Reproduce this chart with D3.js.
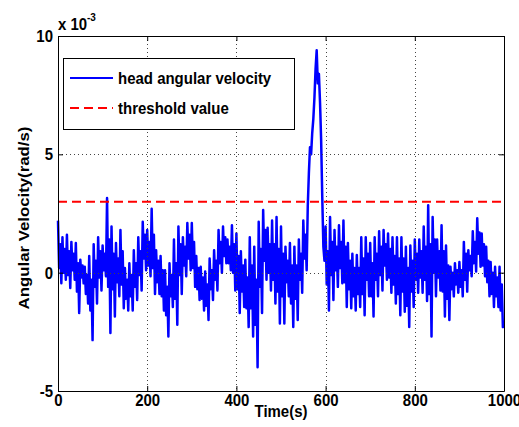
<!DOCTYPE html>
<html>
<head>
<meta charset="utf-8">
<script src="https://cdn.jsdelivr.net/npm/d3@7"></script>
<style>
  body { margin: 0; background: #fff; }
  svg text { font-family: "Liberation Sans", Arial, sans-serif; font-weight: bold; fill: #000; }
</style>
</head>
<body>
<svg id="chart" width="519" height="427"></svg>
<script>
// head angular velocity, in units of 1e-3 rad/s, one sample every 2.5 s
// (four samples per 10 s window: peak, inner low, inner high, trough)
const sampleStep = 2.5;
const velocity = [
  2.2, 0.2, 1.2, -0.45,   1.5, 0.0, 1.0, -0.3,    1.6, -0.1, 0.9, -0.65,  1.3, 0.1, 0.8, -0.3,    1.25, -0.8, 0.4, -1.7,
  0.55, -0.2, 0.3, -0.45, 0.25, -0.9, -0.1, -1.3, 0.7, -1.6, -0.3, -2.85, 1.2, -0.6, 0.5, -1.3,   1.5, -0.2, 0.9, -0.75,
  1.15, 0.1, 0.8, -0.15,  3.15, -0.6, 1.4, -2.55, 1.95, -0.7, 0.8, -1.85, 1.25, -0.4, 0.6, -1.0,  1.8, -0.5, 0.9, -1.5,
  0.2, -1.1, -0.3, -1.6,  0.4, -1.0, -0.1, -1.6,  0.95, -0.6, 0.4, -1.15, 1.5, -0.1, 0.9, -0.75,  2.15, 0.6, 1.6, 0.1,
  1.8, 0.3, 1.3, -0.15,   2.7, 0.2, 1.6, -0.9,    0.95, -0.4, 0.5, -0.9,  0.7, -1.0, 0.1, -1.6,   0.1, -1.8, -0.6, -2.7,
  0.4, -1.0, -0.1, -1.45, 1.4, -1.1, 0.4, -2.2,   1.95, -0.1, 1.2, -0.9,  1.5, 0.3, 1.1, -0.15,   2.1, 0.6, 1.6, 0.1,
  2.1, 0.2, 1.3, -0.6,    0.7, -0.7, 0.2, -1.15,  0.25, -1.1, -0.2, -1.6, 0.05, -1.4, -0.5, -2.0, 0.6, -0.7, 0.1, -1.15,
  0.95, -0.3, 0.5, -0.75, 1.8, 0.4, 1.3, 0.0,     1.95, 0.7, 1.5, 0.4,    1.4, 0.4, 1.1, 0.1,     2.0, 0.0, 1.2, -0.75,
  1.65, -0.7, 0.7, -1.7,  0.9, -0.8, 0.3, -1.45,  0.55, -1.5, -0.2, -2.3, 1.5, -1.5, 0.3, -2.7,   1.1, -2.2, -0.3, -4.0,
  2.15, -0.6, 1.0, -1.7,  2.65, 0.5, 1.8, -0.3,   1.9, 0.0, 1.2, -0.75,   2.2, -0.3, 1.2, -1.3,   2.35, -0.8, 1.0, -2.15,
  1.95, -1.0, 0.8, -2.15, 1.1, -0.4, 0.5, -1.0,   1.25, -1.3, 0.3, -2.3,  1.1, -1.1, 0.3, -2.0,   1.4, -0.3, 0.8, -0.85,
  2.2, 0.6, 1.6, 0.1,     2.8, 4.2, 5.3, 5.0,     5.9, 6.5, 7.4, 8.6,     9.4, 8.0, 8.4, 7.2,     5.6, 3.2, 1.1, 0.5,
  1.95, -0.5, 0.9, -1.6,  2.35, -0.1, 1.3, -1.15, 1.8, 0.1, 1.1, -0.6,    2.0, 0.2, 1.3, -0.45,   2.2, -0.4, 1.1, -1.45,
  1.25, -0.7, 0.5, -1.5,  0.8, -1.0, 0.2, -1.6,   0.75, -0.9, 0.2, -1.45, 1.5, -0.9, 0.6, -1.8,   1.5, -0.3, 0.8, -1.0,
  1.25, -1.0, 0.4, -1.85, 1.5, -0.3, 0.8, -1.0,   1.75, -0.1, 1.1, -0.75, 1.8, 0.3, 1.2, -0.3,    1.65, -0.2, 1.0, -0.85,
  1.5, -0.5, 0.7, -1.3,   1.5, -0.9, 0.6, -1.8,   1.5, -0.8, 0.6, -1.65,  1.1, -1.4, 0.2, -2.3,   1.15, -0.8, 0.5, -1.45,
  1.4, -0.3, 0.8, -0.85,  1.4, -0.2, 0.9, -0.85,  1.95, -0.3, 1.1, -1.2,  2.85, -0.9, 1.2, -2.7,  2.35, 0.0, 1.4, -1.0,
  1.4, -0.2, 0.9, -0.75,  2.0, -0.8, 0.9, -1.85,  1.15, -1.1, 0.3, -2.0,  0.25, -0.7, 0.0, -1.0,  0.4, -0.5, 0.1, -0.85,
  0.45, -0.6, 0.1, -1.0,  1.3, -0.3, 0.8, -0.8,   0.95, 0.1, 0.7, -0.15,  1.75, 0.4, 1.3, 0.05,   2.3, 0.8, 1.7, 0.25,
  1.65, 0.3, 1.2, -0.15,  1.1, -0.4, 0.5, -1.0,   0.45, -0.9, 0.0, -1.45, 0.25, -1.0, -0.2, -1.45, 0.25, -1.6, -0.5, -2.3,
  -2.2
];
const threshold = 3;
const xTicks = [0, 200, 400, 600, 800, 1000];
const yTicks = [-5, 0, 5, 10];
const legendLabels = ["head angular velocity", "threshold value"];

const stretch = 1.12; // the reference picture is a bit taller than wide
const svg = d3.select("#chart");
const margin = { top: 36, right: 15, bottom: 36, left: 58 };
const width = +svg.attr("width") - margin.left - margin.right;
const height = +svg.attr("height") - margin.top - margin.bottom;

const x = d3.scaleLinear().domain([0, 1000]).range([margin.left, margin.left + width]);
const y = d3.scaleLinear().domain([-5, 10]).range([margin.top + height, margin.top]);

const data = velocity.map((v, i) => ({ t: i * sampleStep, v }));

// signal
const valueline = d3.line().x(d => x(d.t)).y(d => y(d.v));
svg.append("path")
  .datum(data)
  .attr("d", valueline)
  .attr("fill", "none")
  .attr("stroke", "#0000ff")
  .attr("stroke-width", 2.5)
  .attr("stroke-linejoin", "round");

// threshold
svg.append("line")
  .attr("x1", x(0)).attr("x2", x(1000))
  .attr("y1", y(threshold)).attr("y2", y(threshold))
  .attr("stroke", "#ff0000")
  .attr("stroke-width", 2)
  .attr("stroke-dasharray", "9,5");

// grid
const grid = svg.append("g").attr("stroke", "#444").attr("stroke-width", 1).attr("stroke-dasharray", "1,3");
grid.selectAll("line.gx")
  .data(xTicks.slice(1, -1))
  .enter().append("line")
  .attr("x1", d => Math.round(x(d)) + 0.5).attr("x2", d => Math.round(x(d)) + 0.5)
  .attr("y1", y(10)).attr("y2", y(-5));
grid.selectAll("line.gy")
  .data(yTicks.slice(1, -1))
  .enter().append("line")
  .attr("y1", d => Math.round(y(d)) + 0.5).attr("y2", d => Math.round(y(d)) + 0.5)
  .attr("x1", x(0)).attr("x2", x(1000));

// axes with inward ticks on all sides
function styleAxis(s) {
  s.select(".domain").attr("stroke", "#000");
  s.selectAll(".tick line").attr("stroke", "#000");
}

svg.append("g")
  .attr("transform", `translate(0, ${margin.top + height})`)
  .call(d3.axisBottom(x).tickValues(xTicks).tickSize(-5).tickSizeOuter(0).tickFormat(d => String(d)))
  .call(styleAxis)
  .call(s => s.selectAll(".tick text")
    .attr("y", 2.7)
    .attr("transform", `scale(1, ${stretch})`)
    .style("font-size", "15px"));

svg.append("g")
  .attr("transform", `translate(${margin.left}, 0)`)
  .call(d3.axisLeft(y).tickValues(yTicks).tickSize(-5).tickSizeOuter(0).tickFormat(d => String(d)))
  .call(styleAxis)
  .call(s => s.selectAll(".tick text")
    .attr("x", -5)
    .attr("transform", `scale(1, ${stretch})`)
    .style("font-size", "15px"));

svg.append("g")
  .attr("transform", `translate(0, ${margin.top})`)
  .call(d3.axisTop(x).tickValues(xTicks).tickSize(-5).tickSizeOuter(0).tickFormat(""))
  .call(styleAxis);

svg.append("g")
  .attr("transform", `translate(${margin.left + width}, 0)`)
  .call(d3.axisRight(y).tickValues(yTicks).tickSize(-5).tickSizeOuter(0).tickFormat(""))
  .call(styleAxis);

// exponent label
const expo = svg.append("g").attr("transform", `translate(${margin.left}, 30) scale(1, ${stretch})`);
expo.append("text").attr("x", 0).attr("y", 0).style("font-size", "15px").text("x 10");
expo.append("text").attr("x", 29).attr("y", -8).style("font-size", "10px").text("-3");

// axis titles
svg.append("g")
  .attr("transform", `translate(${x(500)}, 406) scale(1, ${stretch})`)
  .append("text")
  .attr("text-anchor", "middle")
  .attr("y", 10)
  .style("font-size", "15px")
  .text("Time(s)");

svg.append("g")
  .attr("transform", `translate(29, 218) scale(1, ${stretch}) rotate(-90)`)
  .append("text")
  .attr("text-anchor", "middle")
  .style("font-size", "15px")
  .text("Angular Velocity(rad/s)");

// legend
const legend = svg.append("g");
legend.append("rect")
  .attr("x", 63.5).attr("y", 58.5)
  .attr("width", 231).attr("height", 71)
  .attr("fill", "#fff")
  .attr("stroke", "#000");

const legendStyles = [
  { stroke: "#0000ff", dash: null, y: 78 },
  { stroke: "#ff0000", dash: "9,5", y: 108 }
];
legendLabels.forEach((label, i) => {
  const st = legendStyles[i];
  legend.append("line")
    .attr("x1", 70).attr("x2", 113)
    .attr("y1", st.y).attr("y2", st.y)
    .attr("stroke", st.stroke)
    .attr("stroke-width", 2)
    .attr("stroke-dasharray", st.dash);
  legend.append("g")
    .attr("transform", `translate(118, ${st.y + 6}) scale(1, ${stretch})`)
    .append("text")
    .style("font-size", "15px")
    .text(label);
});
</script>
</body>
</html>
